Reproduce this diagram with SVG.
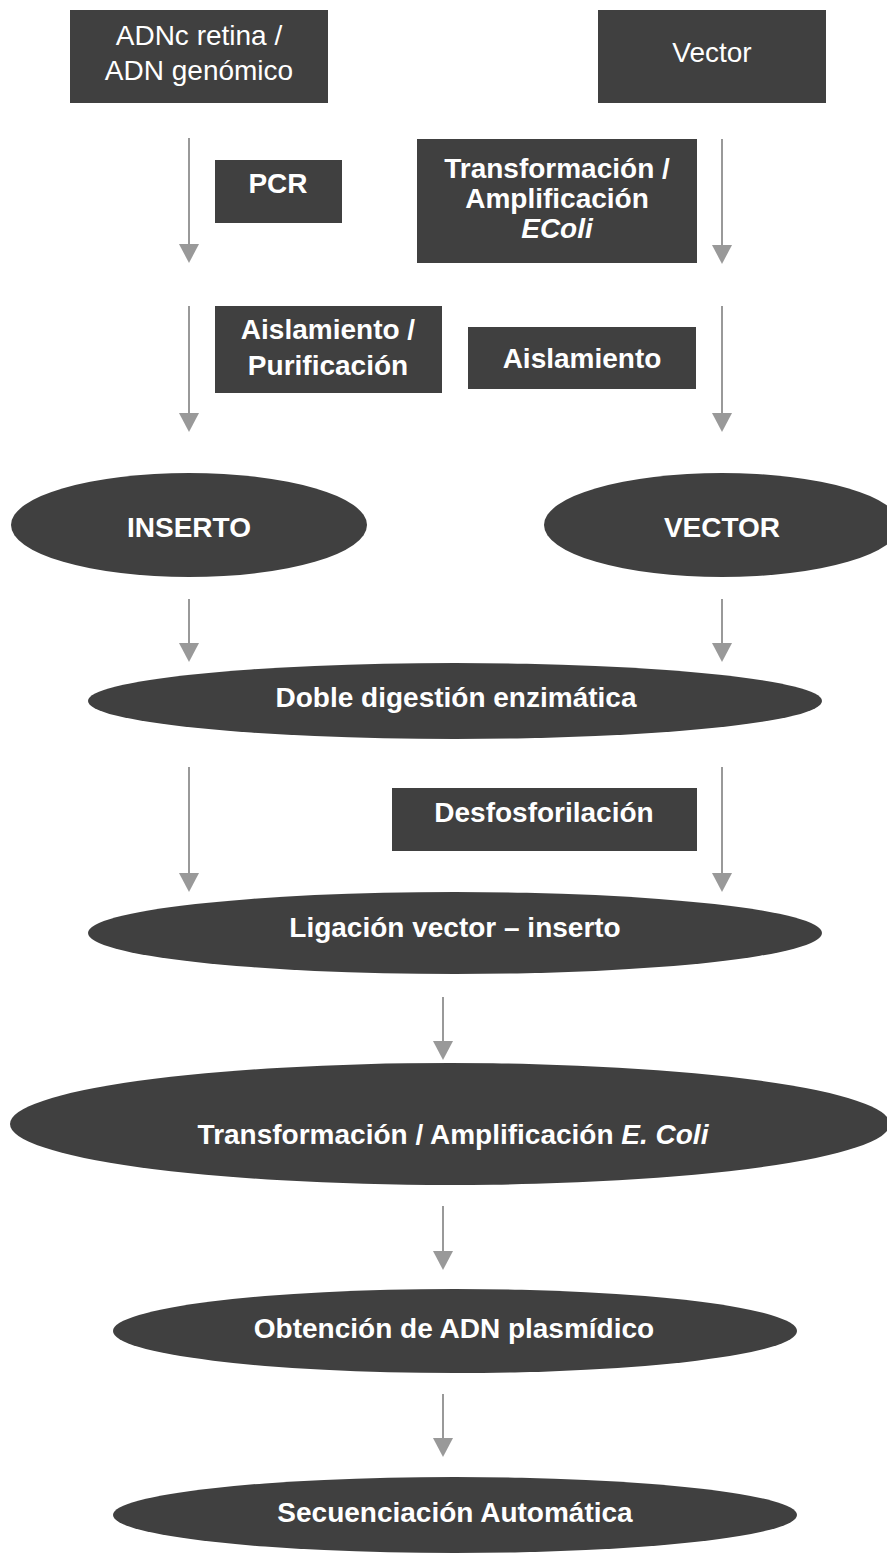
<svg xmlns="http://www.w3.org/2000/svg" width="887" height="1553" viewBox="0 0 887 1553">
<style>
.n{fill:#404040}
.t{fill:#ffffff;font-family:"Liberation Sans",Arial,sans-serif;font-size:28px;text-anchor:middle}
.b{font-weight:bold}
.c{stroke:#999999;stroke-width:2;fill:none}
</style>
<defs>
<marker id="ah" markerUnits="userSpaceOnUse" markerWidth="20" markerHeight="20" refX="9" refY="10" orient="auto" viewBox="0 0 20 20">
<path d="M0,0 L19,10 L0,20 z" fill="#999999"/>
</marker>
</defs>
<rect width="887" height="1553" fill="#ffffff"/>
<g id="connectors">
<line class="c" x1="189" y1="138" x2="189" y2="253" marker-end="url(#ah)"/>
<line class="c" x1="722" y1="139" x2="722" y2="254" marker-end="url(#ah)"/>
<line class="c" x1="189" y1="306" x2="189" y2="422" marker-end="url(#ah)"/>
<line class="c" x1="722" y1="306" x2="722" y2="422" marker-end="url(#ah)"/>
<line class="c" x1="189" y1="599" x2="189" y2="652" marker-end="url(#ah)"/>
<line class="c" x1="722" y1="599" x2="722" y2="652" marker-end="url(#ah)"/>
<line class="c" x1="189" y1="767" x2="189" y2="882" marker-end="url(#ah)"/>
<line class="c" x1="722" y1="767" x2="722" y2="882" marker-end="url(#ah)"/>
<line class="c" x1="443" y1="997" x2="443" y2="1050" marker-end="url(#ah)"/>
<line class="c" x1="443" y1="1206" x2="443" y2="1260" marker-end="url(#ah)"/>
<line class="c" x1="443" y1="1394" x2="443" y2="1447" marker-end="url(#ah)"/>
</g>
<g id="adnc">
<rect class="n" x="70" y="10" width="258" height="93"/>
<text class="t" x="199" y="45">ADNc retina /</text>
<text class="t" x="199" y="80">ADN genómico</text>
</g>
<g id="vector-src">
<rect class="n" x="598" y="10" width="228" height="93"/>
<text class="t" x="712" y="62">Vector</text>
</g>
<g id="pcr">
<rect class="n" x="215" y="160" width="127" height="63"/>
<text class="t b" x="278" y="193">PCR</text>
</g>
<g id="transf-ecoli">
<rect class="n" x="417" y="139" width="280" height="124"/>
<text class="t b" x="557" y="178">Transformación /</text>
<text class="t b" x="557" y="208">Amplificación</text>
<text class="t b" x="557" y="238" font-style="italic">EColi</text>
</g>
<g id="aisl-purif">
<rect class="n" x="215" y="306" width="227" height="87"/>
<text class="t b" x="328" y="339">Aislamiento /</text>
<text class="t b" x="328" y="375">Purificación</text>
</g>
<g id="aisl">
<rect class="n" x="468" y="327" width="228" height="62"/>
<text class="t b" x="582" y="368">Aislamiento</text>
</g>
<g id="inserto">
<ellipse class="n" cx="189" cy="525" rx="178" ry="52"/>
<text class="t b" x="189" y="537">INSERTO</text>
</g>
<g id="vector">
<ellipse class="n" cx="722" cy="525" rx="178" ry="52"/>
<text class="t b" x="722" y="537">VECTOR</text>
</g>
<g id="doble">
<ellipse class="n" cx="455" cy="701" rx="367" ry="38"/>
<text class="t b" x="456" y="707">Doble digestión enzimática</text>
</g>
<g id="desfos">
<rect class="n" x="392" y="788" width="305" height="63"/>
<text class="t b" x="544" y="822">Desfosforilación</text>
</g>
<g id="ligacion">
<ellipse class="n" cx="455" cy="933" rx="367" ry="41"/>
<text class="t b" x="455" y="937">Ligación vector – inserto</text>
</g>
<g id="transf-amp">
<ellipse class="n" cx="450" cy="1124" rx="440" ry="61"/>
<text class="t b" x="453" y="1144">Transformación / Amplificación <tspan font-style="italic">E. Coli</tspan></text>
</g>
<g id="obtencion">
<ellipse class="n" cx="455" cy="1331" rx="342" ry="42"/>
<text class="t b" x="454" y="1338">Obtención de ADN plasmídico</text>
</g>
<g id="secuenciacion">
<ellipse class="n" cx="455" cy="1515" rx="342" ry="38"/>
<text class="t b" x="455" y="1522">Secuenciación Automática</text>
</g>
</svg>
